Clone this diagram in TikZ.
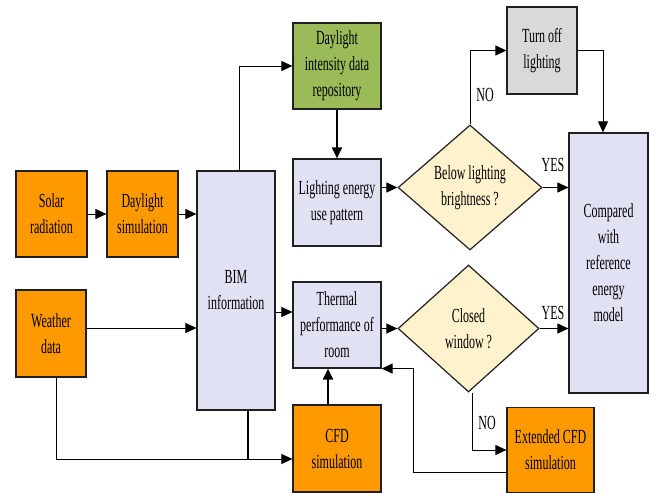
\documentclass[tikz,border=0pt]{standalone}
\usepackage{fontspec}
\setmainfont{Liberation Serif}[FakeStretch=0.6]
\usetikzlibrary{arrows.meta,shapes.geometric}
\definecolor{orng}{HTML}{FF9900}
\definecolor{lav}{HTML}{E0E2F4}
\definecolor{grn}{HTML}{9BBB59}
\definecolor{gry}{HTML}{D9D9D9}
\definecolor{crm}{HTML}{FFF2CC}
\definecolor{edge}{HTML}{202020}
\begin{document}
\begin{tikzpicture}[x=1pt,y=-1pt,
  every node/.style={font=\fontsize{20}{26}\selectfont, align=center, inner sep=0pt},
  box/.style={draw=edge, line width=1.2pt, rectangle, minimum width=#1},
  box/.default=88pt,
  obox/.style={box=#1, fill=orng},
  obox/.default=71pt,
  lbox/.style={box=#1, fill=lav},
  lbox/.default=88pt,
  dec/.style={draw=edge, line width=1.2pt, diamond, fill=crm, aspect=1.15, minimum width=#1},
  arr/.style={line width=1pt, -{Triangle[length=11pt,width=10pt]}},
  thk/.style={line width=2pt},
  lbl/.style={font=\fontsize{20}{26}\selectfont}
]
\useasboundingbox (0,0) rectangle (657,493);
\fill[white] (0,0) rectangle (657,493);

\node[obox, minimum height=86pt] (solar) at (51.5,214) {Solar\\radiation};
\node[obox, minimum height=86pt] (daysim) at (142.5,214) {Daylight\\simulation};
\node[lbox=78pt, minimum height=239pt] (bim) at (236,290.5) {BIM\\information};
\node[box, fill=grn, minimum height=86pt] (repo) at (337,66) {Daylight\\intensity data\\repository};
\node[lbox, minimum height=87pt] (light) at (337,202.5) {Lighting energy\\use pattern};
\node[lbox, minimum height=86pt] (therm) at (337,325) {Thermal\\performance of\\room};
\node[obox=88pt, minimum height=87pt] (cfd) at (337,448.5) {CFD\\simulation};
\node[obox=70pt, minimum height=87pt] (weather) at (51,333.5) {Weather\\data};
\node[box=70pt, fill=gry, minimum height=87pt] (turnoff) at (542,50.5) {Turn off\\lighting};
\node[lbox=79pt, minimum height=260pt] (comp) at (608.5,263) {Compared\\with\\reference\\energy\\model};
\node[obox=87pt, minimum height=85pt] (ext) at (550.5,450) {Extended CFD\\simulation};
\node[dec=144pt, minimum height=125pt] (dia1) at (470,187.5) {Below lighting\\brightness ?};
\node[dec=141pt, minimum height=127pt] (dia2) at (468.5,328.5) {Closed\\window ?};

\draw[arr] (solar.east) -- (daysim.west);
\draw[arr] (daysim.east) -- (daysim.east -| bim.west);
\draw[arr] ([xshift=3pt]bim.north) |- (repo.west);
\draw[thk, -{Triangle[length=11pt,width=10pt]}] (repo.south) -- (light.north);
\draw[arr] (light.east |- dia1.west) -- (dia1.west);
\draw[arr] (dia1.north) |- (turnoff.west);
\draw[arr] (turnoff.east) -| ([xshift=-5.5pt]comp.north);
\draw[arr] (dia1.east) -- (dia1.east -| comp.west);

\coordinate (w1) at ([yshift=5.5pt]weather.east);
\draw[arr] (w1) -- (w1 -| bim.west);
\coordinate (t1) at ([yshift=13pt]therm.west);
\draw[arr] (t1 -| bim.east) -- (t1);
\draw[arr] (therm.east |- dia2.west) -- (dia2.west);
\draw[arr] (dia2.east) -- (dia2.east -| comp.west);
\draw[arr] ([xshift=3.5pt]dia2.south) |- (ext.west);

\coordinate (e1) at ([yshift=-22pt]ext.west);
\draw[arr] (e1) -| ([xshift=32pt]therm.south east) -- (therm.south east);
\draw[thk, -{Triangle[length=11pt,width=10pt]}] ([xshift=-9pt]cfd.north) -- ([xshift=-9pt]therm.south);

\coordinate (c1) at ([yshift=-10.5pt]cfd.west);
\draw[arr] ([xshift=5pt]weather.south) |- (c1);
\draw[thk] ([xshift=12pt]bim.south) -- ([xshift=12pt]bim.south |- c1);

\node[lbl] (no1) at (485,95) {NO};
\node[lbl] (yes1) at (553,165) {YES};
\node[lbl] (yes2) at (553,313) {YES};
\node[lbl] (no2) at (487,423) {NO};
\end{tikzpicture}
\end{document}
